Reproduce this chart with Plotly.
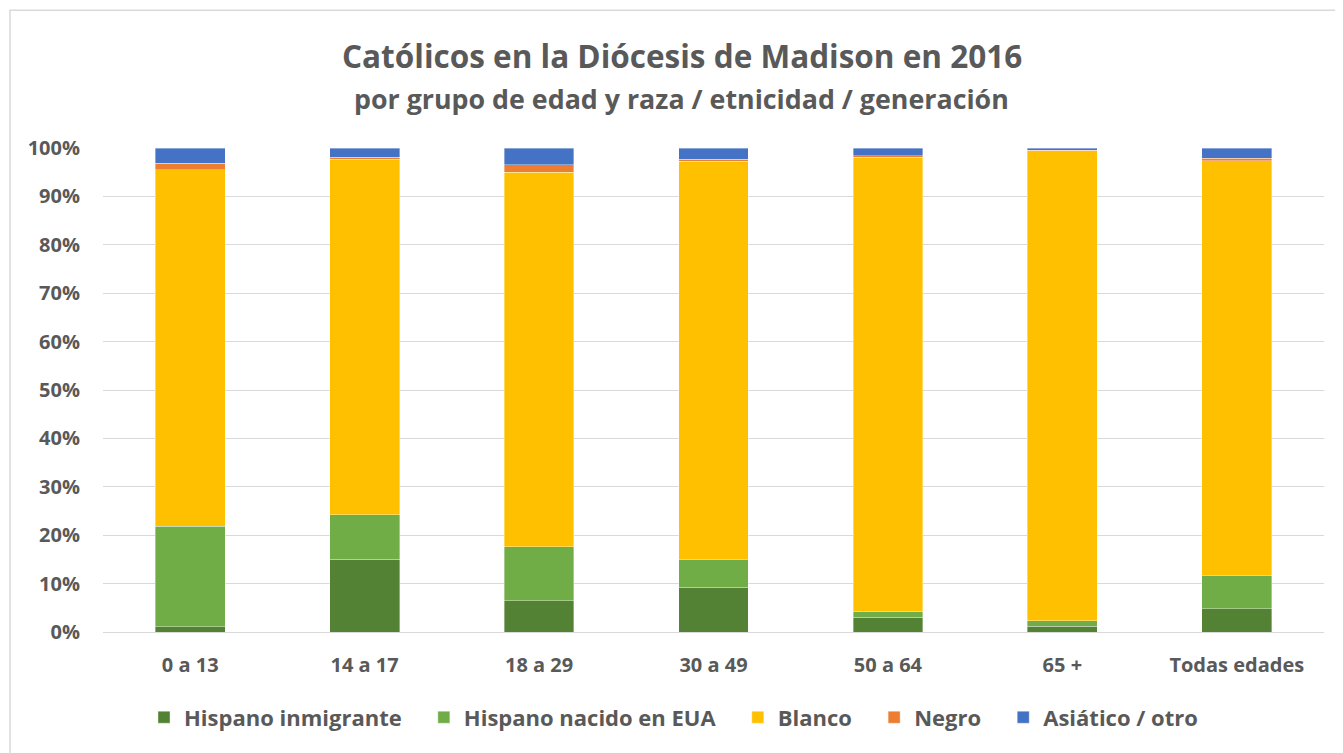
import plotly.graph_objects as go

categories = ["0 a 13", "14 a 17", "18 a 29", "30 a 49", "50 a 64", "65 +", "Todas edades"]
hisp_inmigrante = [1.1, 15.0, 6.5, 9.25, 3.1, 1.2, 4.85]
hisp_nacido = [20.7, 9.25, 11.1, 5.75, 1.1, 1.1, 6.85]
blanco = [73.7, 73.45, 77.4, 82.3, 93.9, 97.1, 85.7]
negro = [1.4, 0.4, 1.5, 0.4, 0.3, 0.1, 0.5]
asiatico = [3.1, 1.9, 3.5, 2.3, 1.6, 0.5, 2.1]

series = [
    ("Hispano inmigrante", hisp_inmigrante, "#548235"),
    ("Hispano nacido en EUA", hisp_nacido, "#70AD47"),
    ("Blanco", blanco, "#FFC000"),
    ("Negro", negro, "#ED7D31"),
    ("Asiático / otro", asiatico, "#4472C4"),
]

FONT = "Open Sans"
GREY = "#595959"
PAD = "   "  # spacing after each legend entry

fig = go.Figure()
for name, vals, col in series:
    fig.add_trace(go.Bar(
        x=categories, y=vals, name=name + PAD,
        marker=dict(color=col, line=dict(color="rgba(255,255,255,0.6)", width=0.6)),
    ))

OFF = 8  # page body margin
W, H = 1343 - OFF, 753 - OFF
L = 103 - OFF
T = 148 - OFF
R = W - (1324 - OFF)
B = H - (632.5 - OFF)
ph = H - T - B
pw = W - L - R

def py(Y):
    return (H - B - (Y - OFF)) / ph

def px(X):
    return (X - OFF - L) / pw

fig.update_layout(
    width=W, height=H,
    barmode="stack", bargap=0.6,
    plot_bgcolor="white", paper_bgcolor="white",
    margin=dict(l=L, r=R, t=T, b=B, autoexpand=False),
    font=dict(family=FONT, color=GREY),
    showlegend=True,
    legend=dict(orientation="h", x=px(682), xanchor="center", y=py(718), yanchor="middle",
                font=dict(size=22, family=FONT, color=GREY, weight="bold"),
                itemwidth=30, tracegroupgap=0, traceorder="normal"),
    annotations=[
        dict(text="<b>Católicos en la Diócesis de Madison en 2016</b>", xref="paper", yref="paper",
             x=px(682), y=py(55), xanchor="center", yanchor="middle", showarrow=False,
             font=dict(size=31.5, family=FONT, color=GREY)),
        dict(text="<b>por grupo de edad y raza / etnicidad / generación</b>", xref="paper", yref="paper",
             x=px(681), y=py(98), xanchor="center", yanchor="middle", showarrow=False,
             font=dict(size=26.8, family=FONT, color=GREY)),
    ],
    shapes=[
        dict(type="rect", xref="paper", yref="paper", x0=px(10), x1=px(W + 40), y0=py(H + 40), y1=py(10),
             line=dict(color="#d9d9d9", width=1.5), fillcolor="rgba(0,0,0,0)", layer="below"),
    ],
)

fig.update_xaxes(
    showgrid=False, showline=True, linecolor="#d9d9d9", linewidth=1,
    ticks="", tickfont=dict(size=20, family=FONT, color=GREY, weight="bold"),
    ticklabelstandoff=15,
)
fig.update_yaxes(
    range=[0, 100], dtick=10, ticksuffix="%",
    showgrid=True, gridcolor="#d9d9d9", gridwidth=1,
    zeroline=True, zerolinecolor="#d9d9d9", zerolinewidth=1,
    ticks="", tickfont=dict(size=20, family=FONT, color=GREY, weight="bold"),
    ticklabelstandoff=22,
)

fig.write_html("out.html")
